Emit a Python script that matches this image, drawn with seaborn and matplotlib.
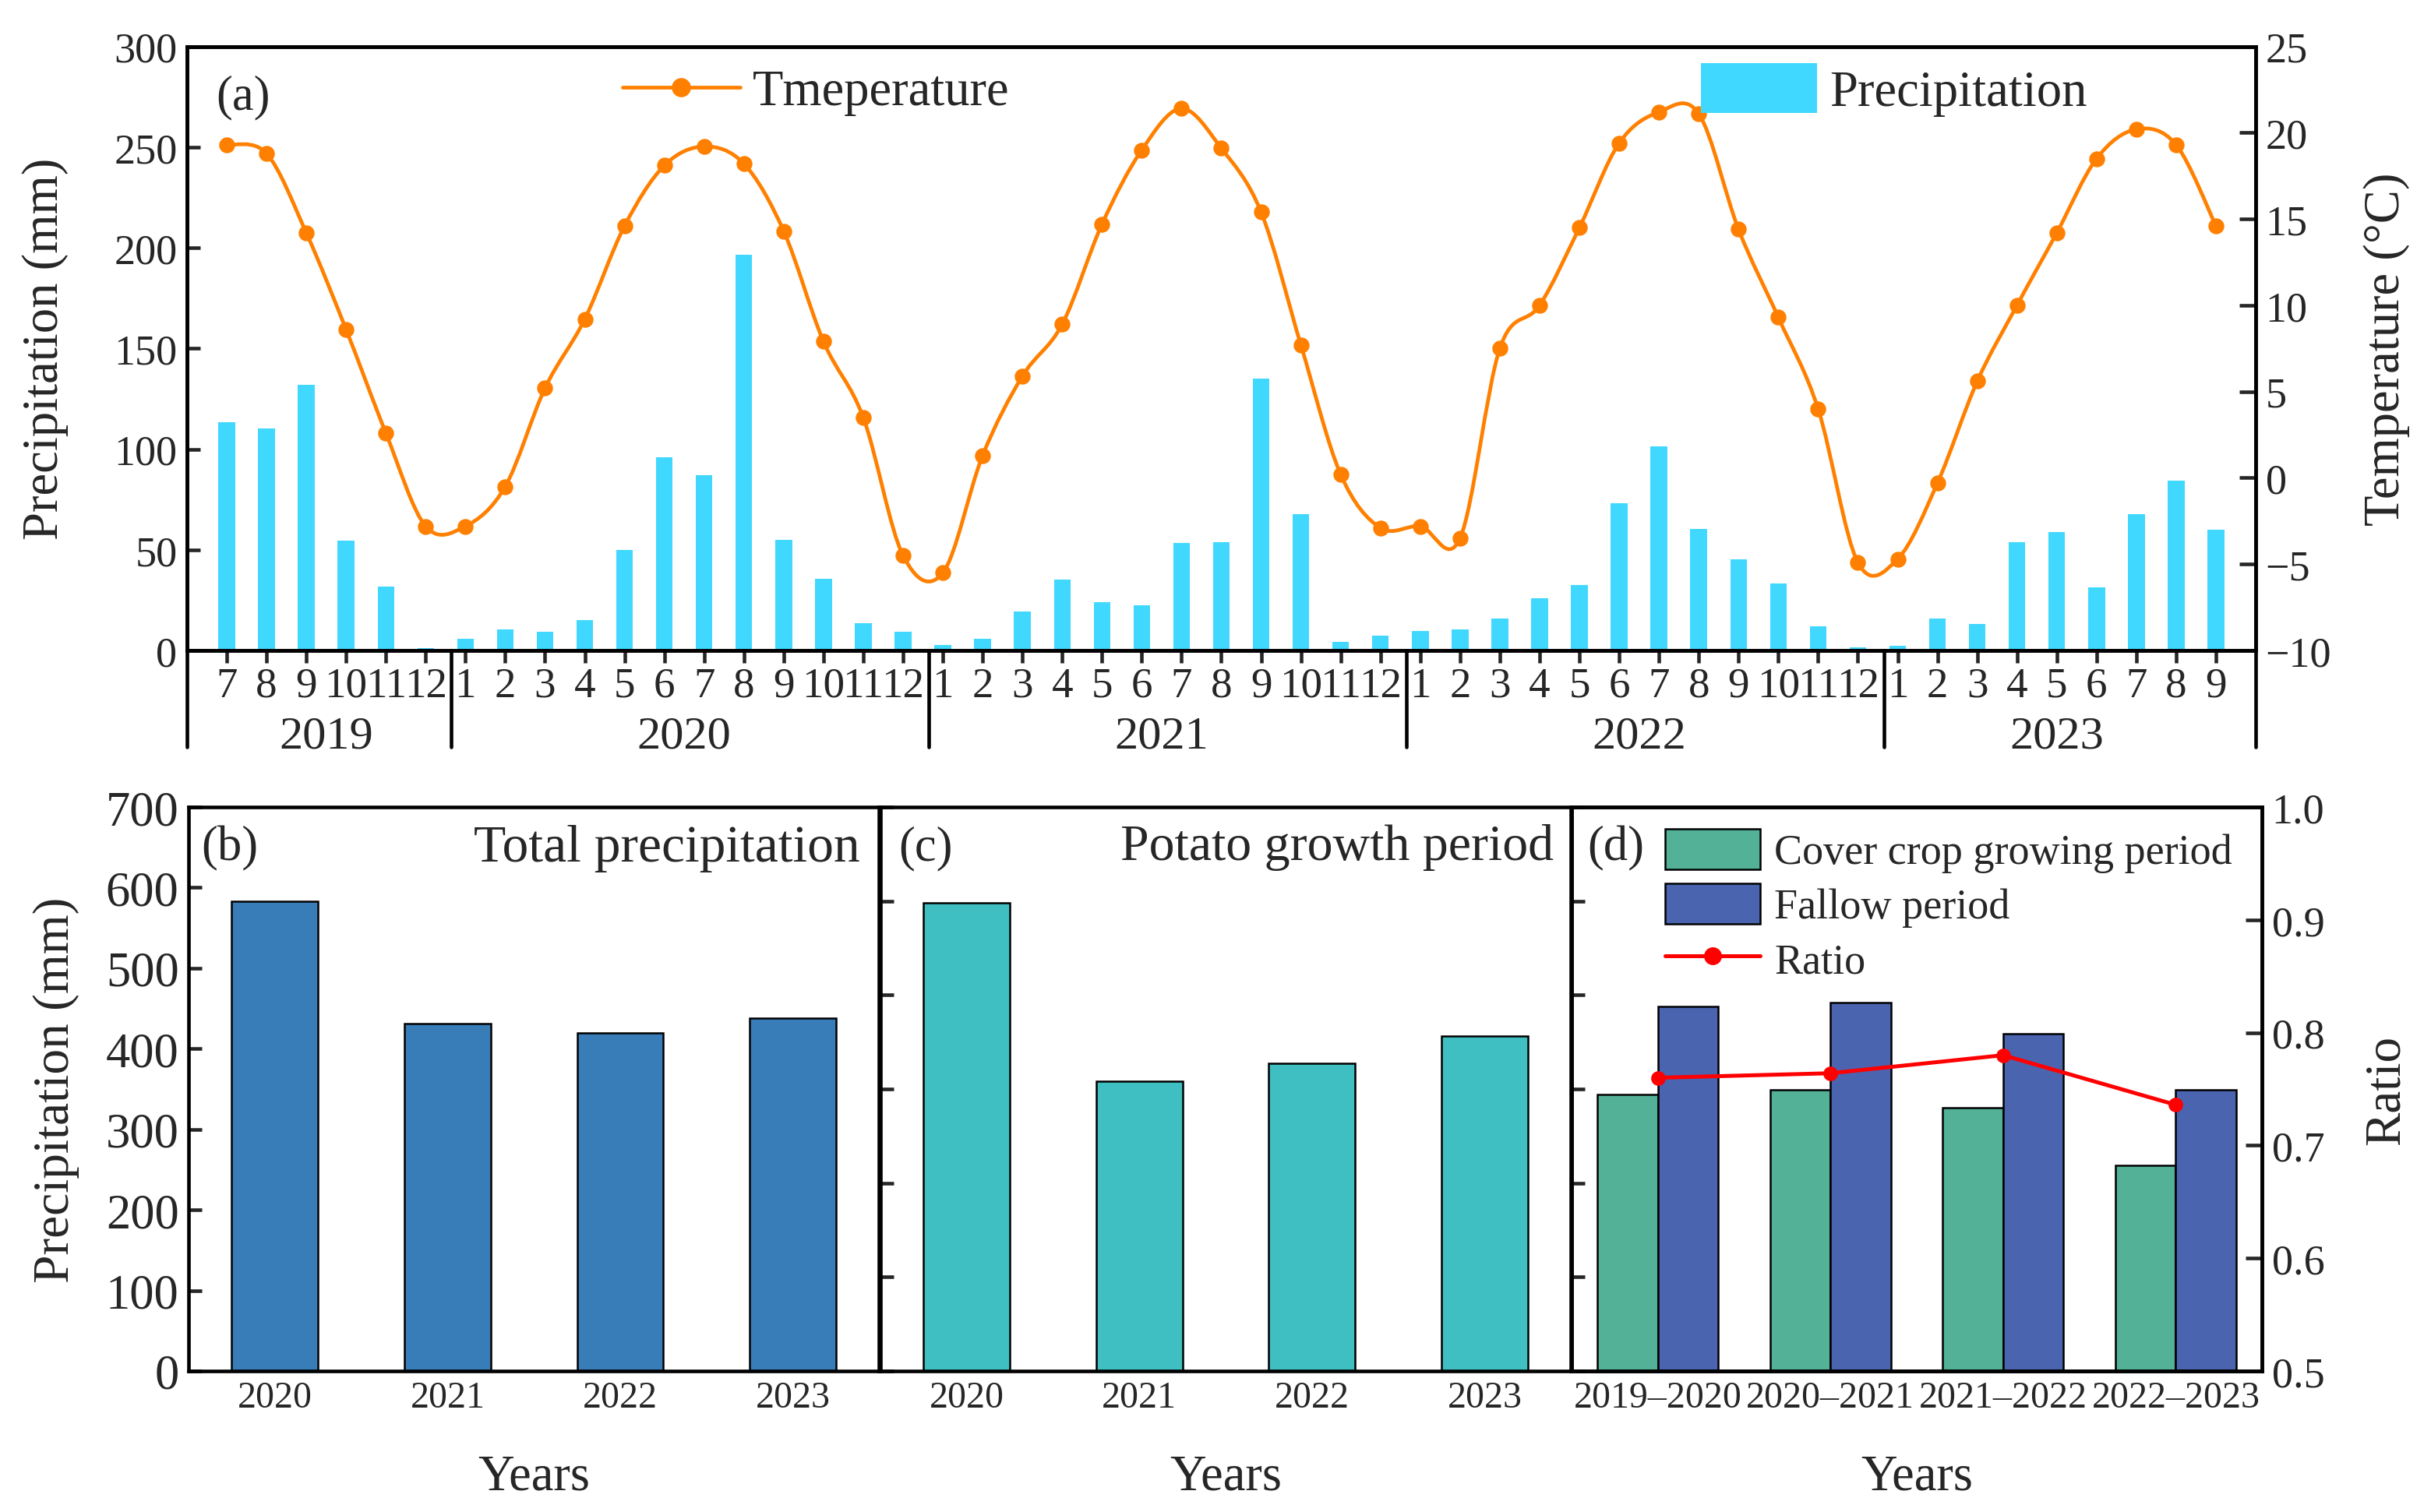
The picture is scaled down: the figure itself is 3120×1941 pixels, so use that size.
import numpy as np
import pandas as pd
import matplotlib
matplotlib.use('Agg')
import matplotlib.pyplot as plt
import matplotlib.transforms as mtransforms
from matplotlib.path import Path
from matplotlib.patches import PathPatch, Patch
from matplotlib.lines import Line2D
import seaborn as sns

# ---- data (a): monthly values Jul 2019 - Sep 2023
year_labels = ['2019', '2020', '2021', '2022', '2023']
year_months = [6, 12, 12, 12, 9]
month_labels = [7, 8, 9, 10, 11, 12] + list(range(1, 13)) * 3 + list(range(1, 10))

precip = [113.2, 110.1, 132.1, 54.4, 31.7, 1.0,
          6.0, 10.4, 9.2, 15.2, 49.8, 95.8, 86.9, 196.7, 54.9, 35.6, 13.5, 9.4,
          2.7, 6.0, 19.4, 35.3, 24.0, 22.3, 53.5, 53.7, 135.0, 67.7, 4.4, 7.3,
          9.7, 10.4, 16.0, 25.9, 32.4, 73.1, 101.4, 60.5, 45.2, 33.4, 12.1, 1.5,
          2.4, 15.7, 13.1, 53.7, 58.8, 31.2, 67.7, 84.4, 60.0]
temp = [19.3, 18.8, 14.2, 8.6, 2.6, -2.8,
        -2.8, -0.5, 5.2, 9.2, 14.6, 18.1, 19.2, 18.2, 14.3, 7.9, 3.5, -4.5,
        -5.5, 1.3, 5.9, 8.9, 14.7, 19.0, 21.4, 19.1, 15.4, 7.7, 0.2, -2.9,
        -2.8, -3.5, 7.5, 10.0, 14.5, 19.4, 21.2, 21.1, 14.4, 9.3, 4.0, -4.9,
        -4.7, -0.3, 5.6, 10.0, 14.2, 18.5, 20.2, 19.3, 14.6]

# ---- data (b), (c)
years = ['2020', '2021', '2022', '2023']
total_precip = [583, 431, 420, 438]
potato_precip = [498, 308, 327, 356]

# ---- data (d)
seasons = ['2019–2020', '2020–2021', '2021–2022', '2022–2023']
cover_precip = [294, 299, 280, 219]
fallow_precip = [388, 392, 359, 299]
ratio = [0.760, 0.764, 0.780, 0.736]

orange = '#FF8000'
cyan = '#40D8FE'
c_total = '#397DB8'
c_potato = '#3FBFC1'
c_cover = '#53B197'
c_fallow = '#4A64AF'

sns.set_theme(style='ticks')
plt.rcParams['font.family'] = ['Liberation Serif', 'DejaVu Serif']
plt.rcParams['axes.linewidth'] = 1.1
plt.rcParams['xtick.major.width'] = 1.1
plt.rcParams['ytick.major.width'] = 1.1
plt.rcParams['axes.edgecolor'] = 'black'


def smooth_path(x, y):
    # Catmull-Rom spline through the points, written as cubic Bezier segments
    pts = np.column_stack([x, y]).astype(float)
    ext = np.vstack([pts[0], pts, pts[-1]])
    verts = [pts[0]]
    codes = [Path.MOVETO]
    for i in range(len(pts) - 1):
        p0, p1, p2, p3 = ext[i], ext[i + 1], ext[i + 2], ext[i + 3]
        verts += [p1 + (p2 - p0) / 6, p2 - (p3 - p1) / 6, p2]
        codes += [Path.CURVE4] * 3
    return Path(verts, codes)


fig = plt.figure(figsize=(10.4, 6.4733), dpi=300)

# ================= (a)
ax = fig.add_axes([0.0769, 0.5695, 0.851, 0.3993])
idx = np.arange(len(precip))
sns.barplot(x=idx, y=precip, native_scale=True, color=cyan, width=0.42,
            saturation=1, linewidth=0, ax=ax)
ax.set_xlim(-1, 51)
ax.set_ylim(0, 300)
ax.set_yticks(range(0, 301, 50))
ax.tick_params(axis='y', direction='in', length=4, labelsize=13, pad=3)
ax.set_xticks(idx)
ax.set_xticklabels(month_labels)
ax.tick_params(axis='x', direction='out', length=3.8, labelsize=13.2, pad=1)
ax.set_xlabel('')
ax.set_ylabel('Precipitation (mm)', fontsize=15.5, labelpad=14)

ax2 = ax.twinx()
ax2.add_patch(PathPatch(smooth_path(idx, temp), facecolor='none',
                        edgecolor=orange, lw=1.15))
sns.scatterplot(x=idx, y=temp, color=orange, s=24, linewidth=0, ax=ax2, zorder=3)
ax2.set_xlim(-1, 51)
ax2.set_ylim(-10, 25)
ax2.set_yticks(range(-10, 26, 5))
ax2.tick_params(axis='y', direction='in', length=5, labelsize=13, pad=3)
ax2.set_ylabel('Temperature (°C)', fontsize=15.5, labelpad=10)

# year separators and year labels below the month ticks
trans = mtransforms.blended_transform_factory(ax.transData, ax.transAxes)
ends = np.cumsum(year_months)
starts = np.concatenate([[0], ends[:-1]])
for e in ends[:-1]:
    ax.plot([e - 1 + 0.65] * 2, [0, -0.16], color='black', lw=1.1,
            transform=trans, clip_on=False)
for xa in (0, 1):
    ax.plot([xa, xa], [0, -0.16], color='black', lw=1.1,
            transform=ax.transAxes, clip_on=False)
for lab, s0, e0 in zip(year_labels, starts, ends):
    ax.text((s0 + e0 - 1) / 2, -0.142, lab, transform=trans, ha='center',
            va='center', fontsize=14.5)

ax.text(0.014, 0.916, '(a)', transform=ax.transAxes, fontsize=15, va='center')

leg1 = ax2.legend(handles=[Line2D([], [], color=orange, lw=1.15, marker='o', ms=4.9)],
                  labels=['Tmeperature'], loc='center left',
                  bbox_to_anchor=(0.2105, 0.924), frameon=False,
                  handlelength=2.34, handletextpad=0.25, borderpad=0,
                  borderaxespad=0, fontsize=15.5)
ax2.add_artist(leg1)
ax2.legend(handles=[Patch(facecolor=cyan, edgecolor='none')],
           labels=['Precipitation'], loc='center left',
           bbox_to_anchor=(0.732, 0.929), frameon=False, handlelength=2.3,
           handleheight=1.15, handletextpad=0.25, borderpad=0,
           borderaxespad=0, fontsize=15.5)

# ================= bottom row
bw = 0.284
bb, bh = 0.0932, 0.3728
axb = fig.add_axes([0.0776, bb, bw, bh])
axc = fig.add_axes([0.3622, bb, bw, bh])
axd = fig.add_axes([0.6465, bb, bw, bh])

sns.barplot(x=years, y=total_precip, color=c_total, saturation=1, width=0.5,
            edgecolor='black', linewidth=0.6, ax=axb)
axb.set_ylim(0, 700)
axb.set_yticks(range(0, 701, 100))
axb.tick_params(axis='y', direction='in', length=4, labelsize=15, pad=3)
axb.set_ylabel('Precipitation (mm)', fontsize=15.7, labelpad=8)
axb.text(0.018, 0.927, '(b)', transform=axb.transAxes, fontsize=15, va='center')
axb.text(0.972, 0.927, 'Total precipitation', transform=axb.transAxes,
         fontsize=16.2, va='center', ha='right')

sns.barplot(x=years, y=potato_precip, color=c_potato, saturation=1, width=0.5,
            edgecolor='black', linewidth=0.6, ax=axc)
axc.set_ylim(0, 600)
axc.set_yticks(range(0, 601, 100))
axc.set_yticklabels([])
axc.tick_params(axis='y', direction='in', length=4)
axc.set_ylabel('')
axc.text(0.026, 0.927, '(c)', transform=axc.transAxes, fontsize=15, va='center')
axc.text(0.975, 0.93, 'Potato growth period', transform=axc.transAxes,
         fontsize=15.8, va='center', ha='right')

df_d = pd.DataFrame({
    'season': seasons * 2,
    'precip': cover_precip + fallow_precip,
    'period': ['Cover crop growing period'] * 4 + ['Fallow period'] * 4,
})
sns.barplot(data=df_d, x='season', y='precip', hue='period',
            palette=[c_cover, c_fallow], saturation=1, width=0.7,
            edgecolor='black', linewidth=0.6, ax=axd, legend=False)
axd.set_ylim(0, 600)
axd.set_yticks(range(0, 601, 100))
axd.set_yticklabels([])
axd.tick_params(axis='y', direction='in', length=4)
axd.set_ylabel('')
axd2 = axd.twinx()
sns.lineplot(x=np.arange(len(ratio)), y=ratio, color='#FF0000', lw=1.2,
             marker='o', markersize=4.5, markeredgewidth=0, ax=axd2)
axd2.set_xlim(-0.5, 3.5)
axd2.set_ylim(0.5, 1.0)
axd2.set_yticks(np.arange(0.5, 1.01, 0.1))
axd2.tick_params(axis='y', direction='in', length=5, labelsize=13, pad=3)
axd2.set_ylabel('Ratio', fontsize=15.6, labelpad=12)
axd.text(0.023, 0.927, '(d)', transform=axd.transAxes, fontsize=15, va='center')
axd2.legend(handles=[Patch(facecolor=c_cover, edgecolor='black', lw=0.6),
                     Patch(facecolor=c_fallow, edgecolor='black', lw=0.6),
                     Line2D([], [], color='#FF0000', lw=1.2, marker='o', ms=4.5)],
            labels=['Cover crop growing period', 'Fallow period', 'Ratio'],
            loc='upper left', bbox_to_anchor=(0.135, 0.962), frameon=False,
            handlelength=2.26, handleheight=1.1, labelspacing=0.26,
            handletextpad=0.33, borderpad=0, borderaxespad=0, fontsize=13)

for a in (axb, axc, axd):
    a.set_xlim(-0.5, 3.5)
    a.tick_params(axis='x', direction='in', length=3.4, labelsize=11.5, pad=3)
    a.set_xlabel('Years', fontsize=15.5, labelpad=12)
    for s in a.spines.values():
        s.set_visible(True)
        s.set_linewidth(1.1)

fig.savefig('out.png', dpi=300)
